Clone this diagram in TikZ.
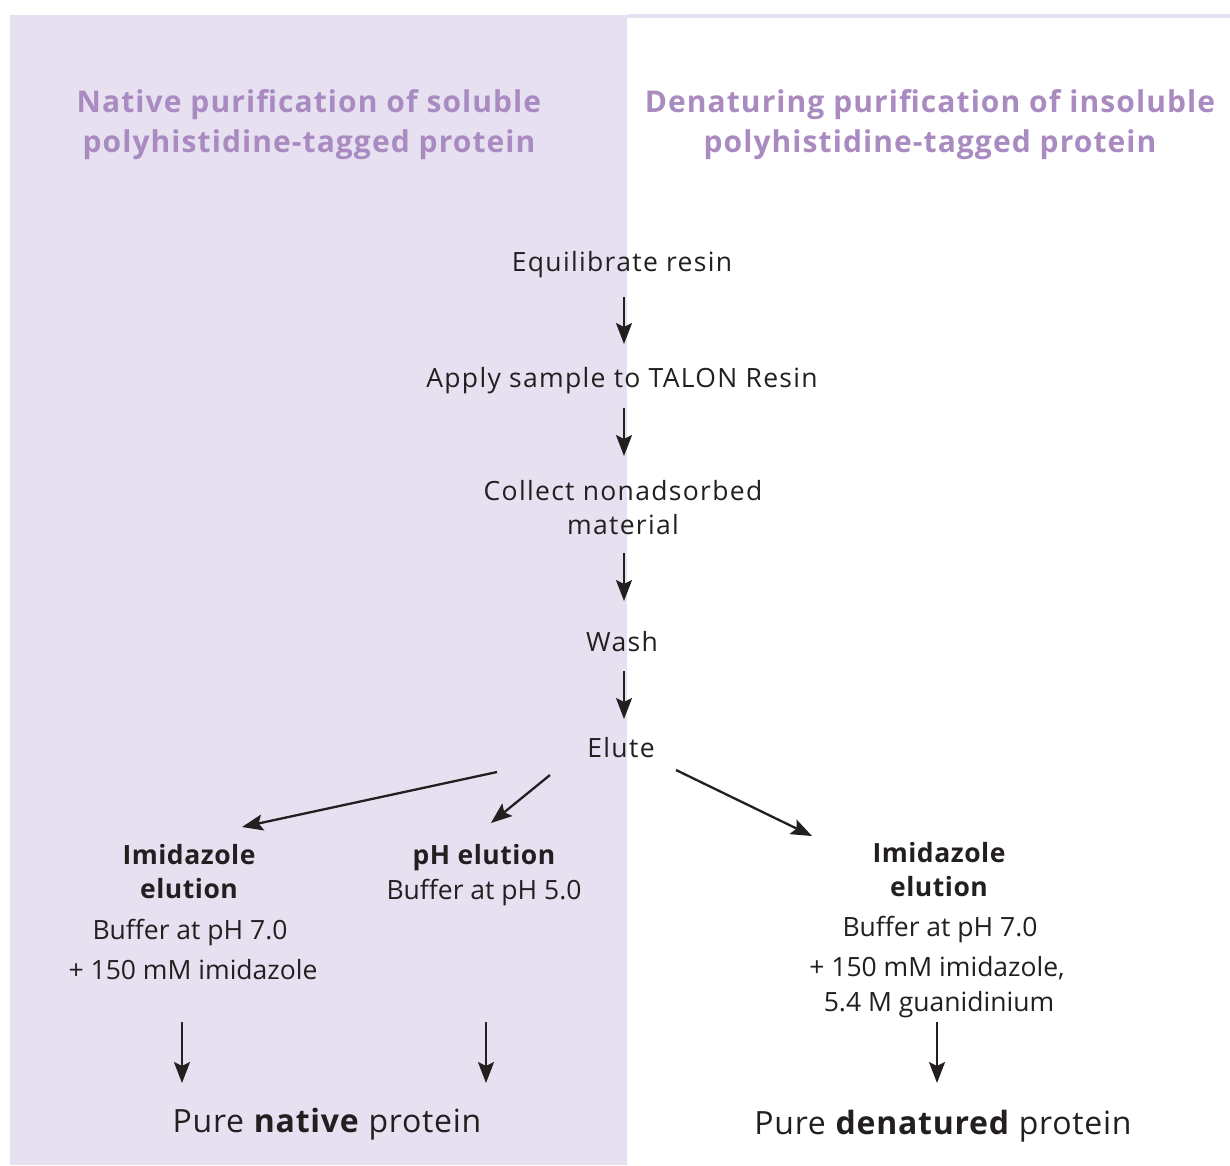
\documentclass[tikz,border=0pt]{standalone}
\usepackage{fontspec}
\setmainfont{Open Sans}
\newfontfamily\bodyfont{Open Sans}[LetterSpace=5]
\newfontfamily\branchfont{Open Sans}[LetterSpace=0]
\newfontfamily\branchbfont{Open Sans}[LetterSpace=2]
\newfontfamily\ttlfont{Open Sans}[LetterSpace=3.6]
\newfontfamily\resfont{Open Sans}[LetterSpace=2.3]
\usetikzlibrary{arrows.meta}
\definecolor{panel}{HTML}{E7E0F0}
\definecolor{ttl}{HTML}{A98BC2}
\definecolor{ink}{HTML}{231F20}
\begin{document}
\begin{tikzpicture}[x=1pt,y=-1pt,
  every node/.style={inner sep=0pt, anchor=base, text=ink},
  ttlline/.style={font=\ttlfont\fontsize{30}{36}\selectfont\bfseries, text=ttl},
  body/.style={font=\bodyfont\fontsize{26.5}{32}\selectfont},
  branch/.style={font=\branchfont\fontsize{26.5}{32}\selectfont},
  branchb/.style={font=\branchbfont\fontsize{26.5}{32}\selectfont\bfseries},
  result/.style={font=\resfont\fontsize{32}{38}\selectfont},
  flow/.style={draw=ink, line width=2.3pt, -{Stealth[length=21pt,width=16pt,inset=4pt]}}]
\useasboundingbox (0,0) rectangle (1230,1165);
\fill[white] (0,0) rectangle (1230,1165);
\fill[panel] (10,15) rectangle (627,1165);
\fill[panel] (627,14) rectangle (1230,17.5);

% titles
\node[ttlline] (tl1) at (309,112) {Native purification of soluble};
\node[ttlline] (tl2) at (309,152) {polyhistidine-tagged protein};
\node[ttlline] (tr1) at (930,112) {Denaturing purification of insoluble};
\node[ttlline] (tr2) at (930,152) {polyhistidine-tagged protein};

% main steps
\node[body] (eq) at (622,271) {Equilibrate resin};
\node[body] (ap) at (622,387) {Apply sample to TALON Resin};
\node[body] (co1) at (623,500) {Collect nonadsorbed};
\node[body] (co2) at (623,534) {material};
\node[body] (wa) at (622,651) {Wash};
\node[body] (el) at (621,757) {Elute};

% left branch: imidazole elution
\node[branchb] (iml1) at (189,864) {Imidazole};
\node[branchb] (iml2) at (189,898) {elution};
\node[branch] (iml3) at (190,939) {Buffer at pH 7.0};
\node[branch] (iml4) at (193,979) {+ 150 mM imidazole};

% middle branch: pH elution
\node[branchb] (ph1) at (484,864) {pH elution};
\node[branch] (ph2) at (484,899) {Buffer at pH 5.0};

% right branch
\node[branchb] (imr1) at (939,862) {Imidazole};
\node[branchb] (imr2) at (939,896) {elution};
\node[branch] (imr3) at (940,936) {Buffer at pH 7.0};
\node[branch] (imr4) at (937,976) {+ 150 mM imidazole,};
\node[branch] (imr5) at (939,1011) {5.4 M guanidinium};

% results
\node[result] (pn) at (327,1132) {Pure \textbf{native} protein};
\node[result] (pd) at (943,1134) {Pure \textbf{denatured} protein};

% connector endpoints
\coordinate (a1s) at (624,297); \coordinate (a1e) at (624,344);
\coordinate (a2s) at (624,408); \coordinate (a2e) at (624,456);
\coordinate (a3s) at (624,553); \coordinate (a3e) at (624,601);
\coordinate (a4s) at (624,671); \coordinate (a4e) at (624,719);
\coordinate (b1s) at (497,772); \coordinate (b1e) at (242,827);
\coordinate (b2s) at (550,775); \coordinate (b2e) at (491,823);
\coordinate (b3s) at (676,770); \coordinate (b3e) at (812,836);
\coordinate (c1s) at (182,1022); \coordinate (c1e) at (182,1083);
\coordinate (c2s) at (486,1022); \coordinate (c2e) at (486,1083);
\coordinate (c3s) at (937,1022); \coordinate (c3e) at (937,1083);

\draw[flow] (a1s) -- (a1e);
\draw[flow] (a2s) -- (a2e);
\draw[flow] (a3s) -- (a3e);
\draw[flow] (a4s) -- (a4e);
\draw[flow] (b1s) -- (b1e);
\draw[flow] (b2s) -- (b2e);
\draw[flow] (b3s) -- (b3e);
\draw[flow] (c1s) -- (c1e);
\draw[flow] (c2s) -- (c2e);
\draw[flow] (c3s) -- (c3e);
\end{tikzpicture}
\end{document}
